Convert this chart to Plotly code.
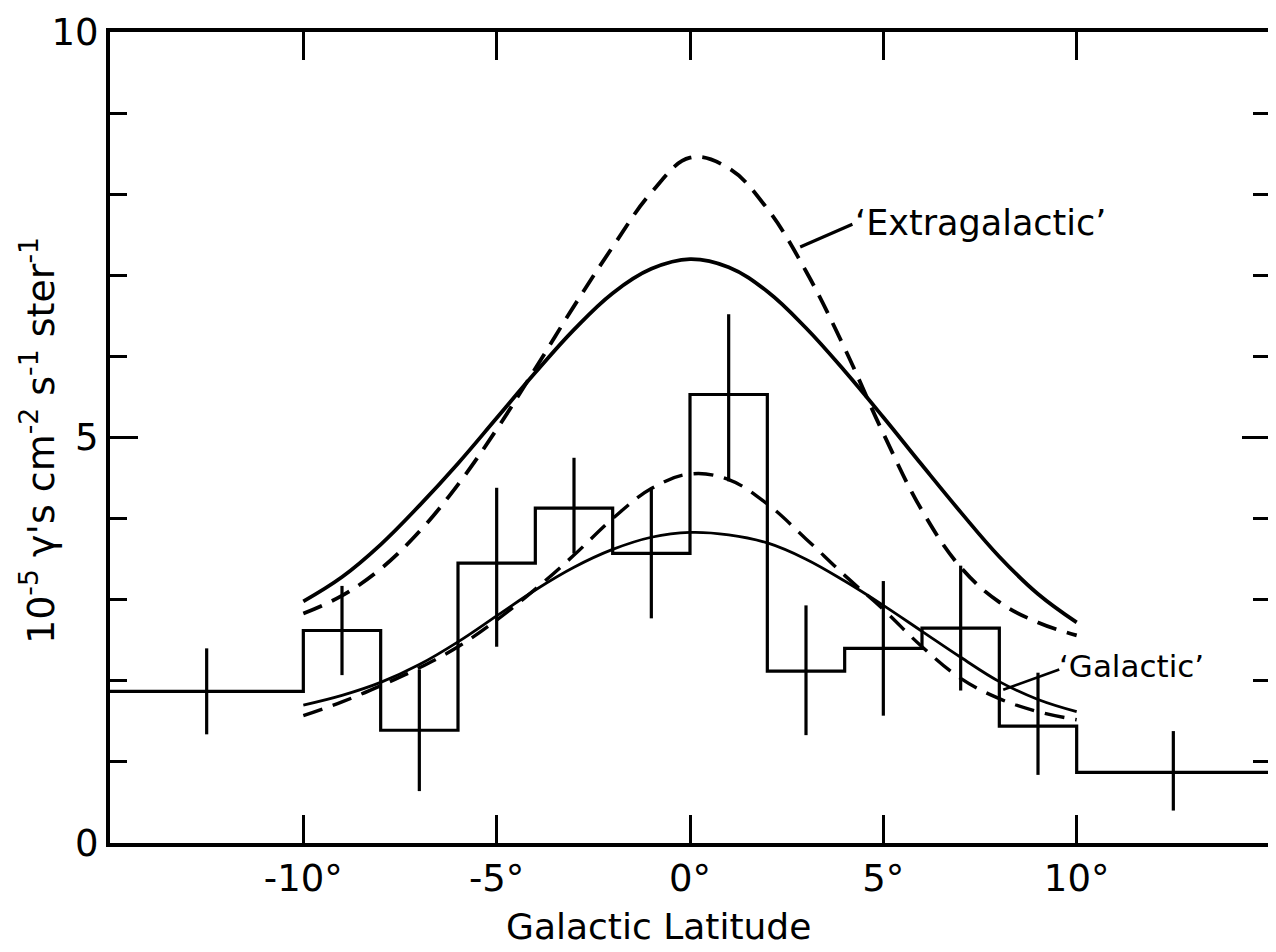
import plotly.graph_objects as go

# ---- data ----
bin_edges = [-15, -10, -8, -6, -4, -2, 0, 2, 4, 6, 8, 10, 15]
bin_values = [1.87, 2.62, 1.39, 3.45, 4.13, 3.57, 5.53, 2.12, 2.40, 2.65, 1.44, 0.87]

err_x = [-12.5, -9, -7, -5, -3, -1, 1, 3, 5, 7, 9, 12.5]
err_y = [1.87, 2.62, 1.39, 3.40, 4.16, 3.57, 5.49, 2.13, 2.40, 2.65, 1.47, 0.89]
err_half = [0.53, 0.55, 0.75, 0.98, 0.59, 0.80, 1.03, 0.80, 0.83, 0.77, 0.63, 0.49]

curve_x = [-10, -9, -8, -7, -6, -5, -4, -3, -2, -1, 0, 1, 2, 3, 4, 5, 6, 7, 8, 9, 10]
extra_solid = [2.98, 3.28, 3.68, 4.16, 4.68, 5.24, 5.80, 6.33, 6.78, 7.08, 7.20, 7.10, 6.80, 6.35, 5.82, 5.25, 4.66, 4.08, 3.53, 3.07, 2.72]
extra_dashed = [2.83, 3.05, 3.38, 3.84, 4.42, 5.10, 5.85, 6.62, 7.35, 8.02, 8.45, 8.32, 7.82, 7.05, 6.10, 5.05, 4.10, 3.40, 2.97, 2.72, 2.56]
gal_solid = [1.70, 1.82, 1.98, 2.20, 2.48, 2.80, 3.12, 3.40, 3.62, 3.77, 3.83, 3.80, 3.70, 3.50, 3.23, 2.93, 2.61, 2.29, 1.99, 1.77, 1.62]
gal_dashed = [1.57, 1.74, 1.94, 2.16, 2.42, 2.75, 3.13, 3.55, 4.00, 4.37, 4.55, 4.48, 4.18, 3.75, 3.30, 2.88, 2.42, 2.03, 1.78, 1.62, 1.52]

x_tick_vals = [-10, -5, 0, 5, 10]
x_tick_text = ["-10°", "-5°", "0°", "5°", "10°"]
y_tick_vals = [0, 5, 10]
y_tick_text = ["0", "5", "10"]

FONT = "DejaVu Sans"
BLACK = "#000000"

fig = go.Figure()

# histogram (step)
step_x = bin_edges
step_y = bin_values + [bin_values[-1]]
fig.add_trace(go.Scatter(x=step_x, y=step_y, mode="lines", line=dict(color=BLACK, width=3.2, shape="hv"),
                         hoverinfo="skip", showlegend=False))

# error bars
fig.add_trace(go.Scatter(x=err_x, y=err_y, mode="markers", marker=dict(size=1, color=BLACK, opacity=0),
                         error_y=dict(type="data", array=err_half, visible=True, color=BLACK, thickness=3.2, width=0),
                         showlegend=False))

# model curves
fig.add_trace(go.Scatter(x=curve_x, y=extra_solid, mode="lines",
                         line=dict(color=BLACK, width=3.8, shape="spline", smoothing=1.1), showlegend=False))
fig.add_trace(go.Scatter(x=curve_x, y=extra_dashed, mode="lines",
                         line=dict(color=BLACK, width=3.8, shape="spline", smoothing=1.1, dash="20px,11px"), showlegend=False))
fig.add_trace(go.Scatter(x=curve_x, y=gal_solid, mode="lines",
                         line=dict(color=BLACK, width=2.8, shape="spline", smoothing=1.1), showlegend=False))
fig.add_trace(go.Scatter(x=curve_x, y=gal_dashed, mode="lines",
                         line=dict(color=BLACK, width=3.4, shape="spline", smoothing=1.1, dash="20px,11px"), showlegend=False))

# leader lines for labels
fig.add_shape(type="line", x0=2.85, y0=7.35, x1=4.2, y1=7.63, xref="x", yref="y",
              line=dict(color=BLACK, width=3.2))
fig.add_shape(type="line", x0=8.1, y0=1.89, x1=9.55, y1=2.14, xref="x", yref="y",
              line=dict(color=BLACK, width=2.6))

fig.add_annotation(x=4.22, y=7.64, xref="x", yref="y", text="‘Extragalactic’", showarrow=False,
                   xanchor="left", yanchor="middle", font=dict(family=FONT, size=35, color=BLACK))
fig.add_annotation(x=9.5, y=2.18, xref="x", yref="y", text="‘Galactic’", showarrow=False,
                   xanchor="left", yanchor="middle", font=dict(family=FONT, size=31, color=BLACK))

# axis titles
fig.add_annotation(x=(658 - 110) / 1160, y=(843 - 926) / 811, xref="paper", yref="paper",
                   text="Galactic Latitude", showarrow=False, xanchor="center", yanchor="middle",
                   font=dict(family=FONT, size=36, color=BLACK))
fig.add_annotation(x=(38 - 110) / 1160, y=(843 - 441) / 811, xref="paper", yref="paper",
                   text="10<sup>-5</sup> γ's cm<sup>-2</sup> s<sup>-1</sup> ster<sup>-1</sup>",
                   showarrow=False, textangle=-90, xanchor="center", yanchor="middle",
                   font=dict(family=FONT, size=38, color=BLACK))

fig.update_xaxes(range=[-15, 15], tickvals=x_tick_vals, ticktext=x_tick_text,
                 ticks="inside", ticklen=28, tickwidth=3, tickcolor=BLACK,
                 showline=True, linewidth=4, linecolor=BLACK, mirror="allticks",
                 showgrid=False, zeroline=False, automargin=False,
                 tickfont=dict(family=FONT, size=37, color=BLACK))
fig.update_yaxes(range=[0, 10], tickvals=y_tick_vals, ticktext=y_tick_text,
                 ticks="inside", ticklen=28, tickwidth=3, tickcolor=BLACK,
                 minor=dict(dtick=1, ticks="inside", ticklen=17, tickwidth=3, tickcolor=BLACK, showgrid=False),
                 showline=True, linewidth=4, linecolor=BLACK, mirror="allticks",
                 showgrid=False, zeroline=False, automargin=False,
                 tickfont=dict(family=FONT, size=37, color=BLACK))

# the page adds an 8px body margin, so the figure is shrunk and shifted to match
fig.update_layout(width=1268, height=944, paper_bgcolor="white", plot_bgcolor="white",
                  margin=dict(l=102, r=6, t=24, b=109), showlegend=False)

fig.write_html("out.html")
